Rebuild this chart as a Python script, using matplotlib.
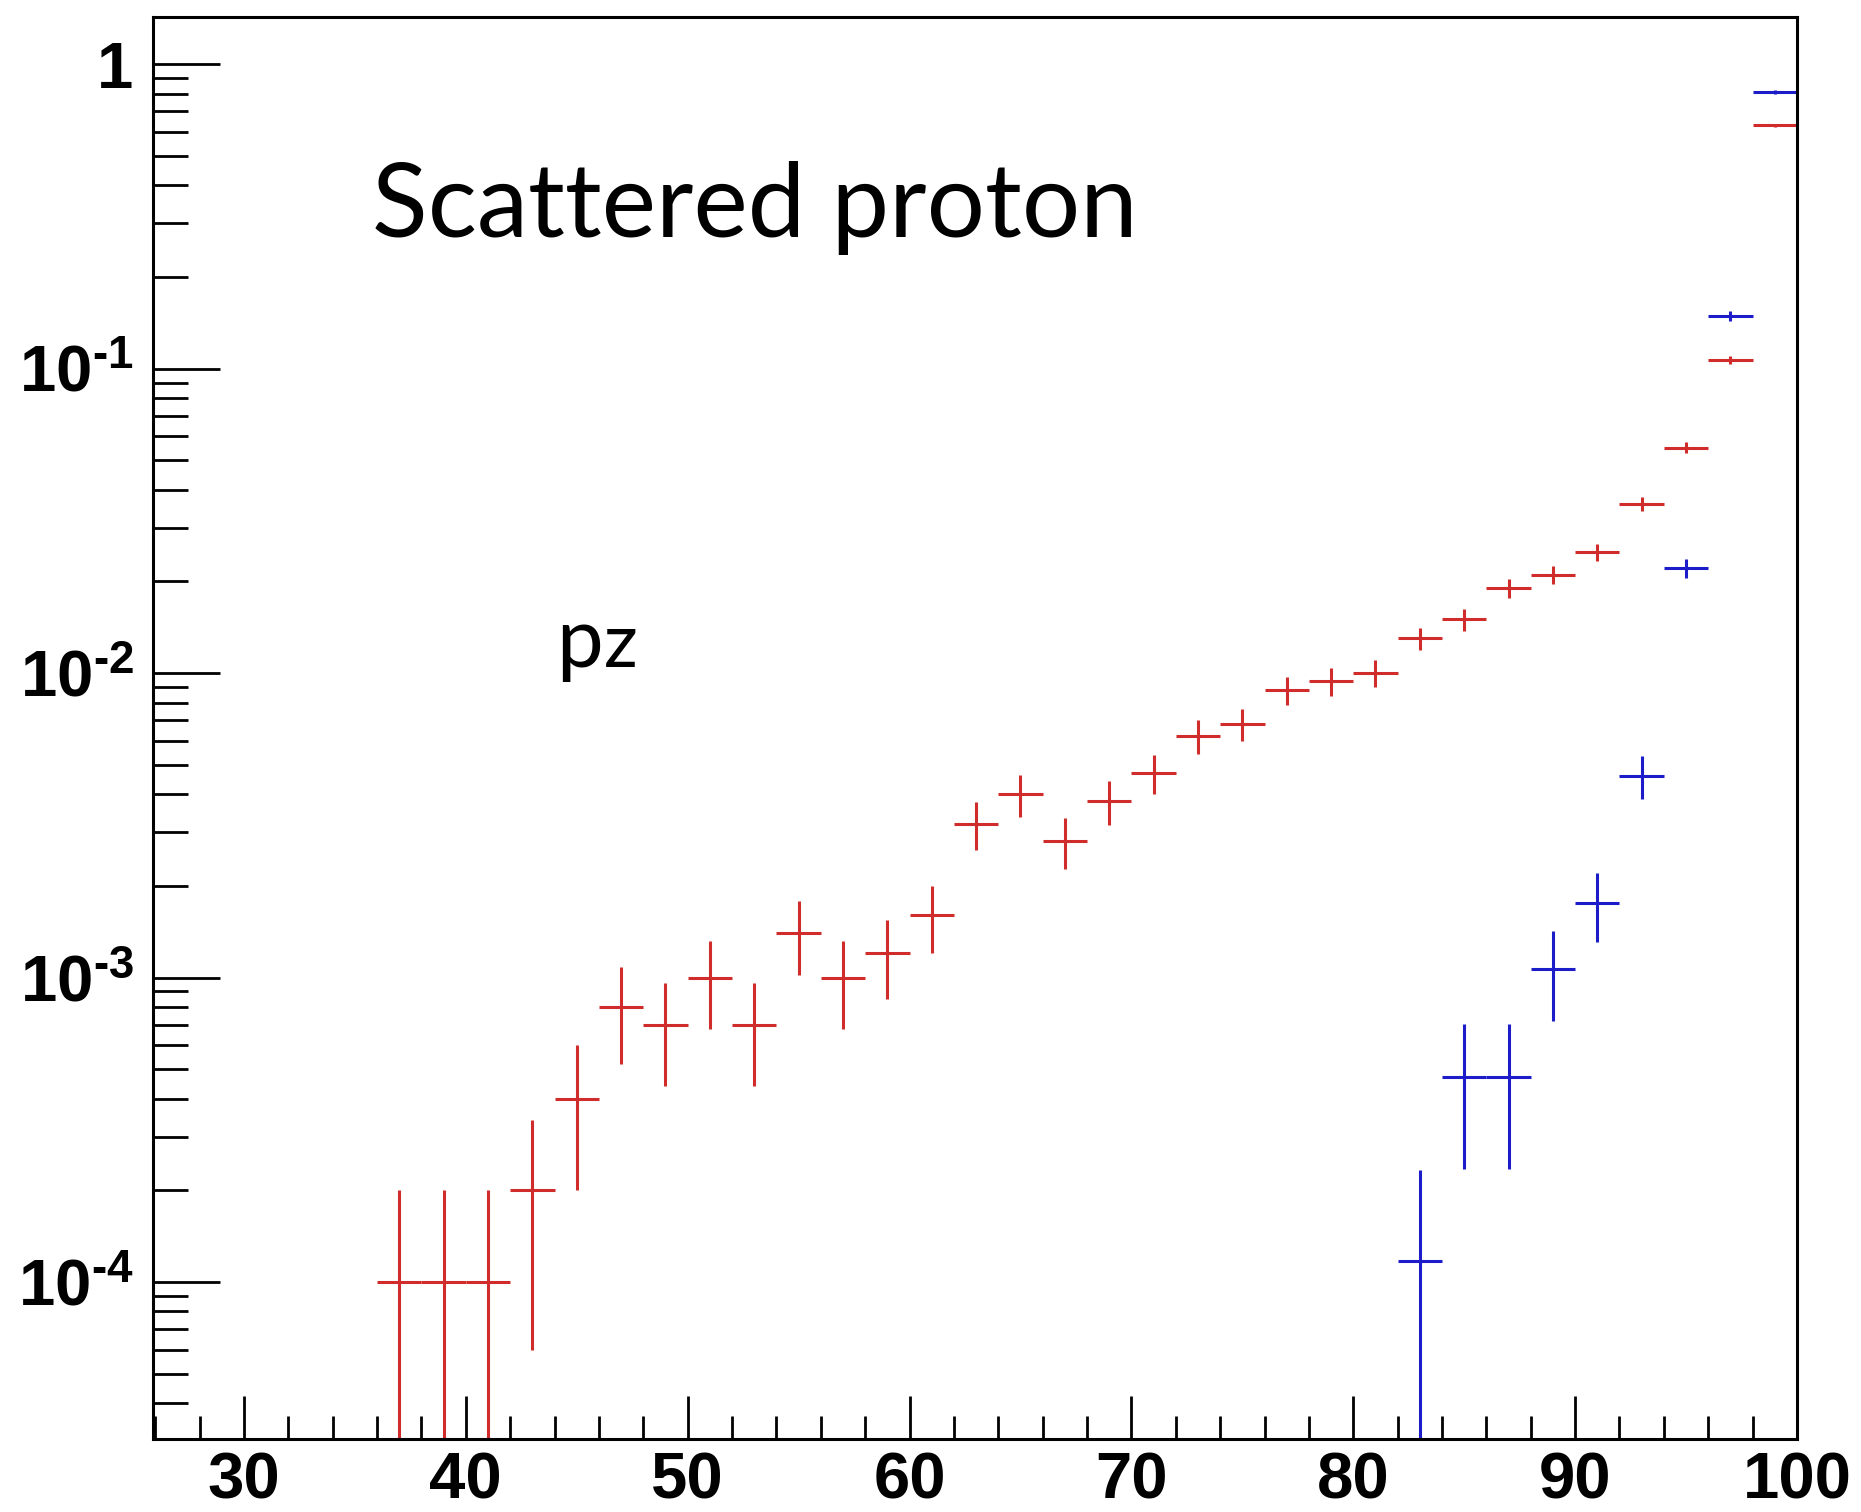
import matplotlib.pyplot as plt
import numpy as np
from matplotlib.ticker import MultipleLocator, LogLocator, NullFormatter

plt.rcParams['mathtext.fontset'] = 'custom'
plt.rcParams['mathtext.rm'] = 'Liberation Sans:bold'
plt.rcParams['mathtext.bf'] = 'Liberation Sans:bold'

# red histogram (bin centres, contents, errors)
red_x = np.arange(37, 100, 2)
red_y = np.array([1e-4, 1e-4, 1e-4, 2e-4, 4e-4, 8e-4, 7e-4, 1e-3, 7e-4, 1.4e-3,
                  1e-3, 1.2e-3, 1.6e-3, 3.2e-3, 4e-3, 2.8e-3, 3.8e-3, 4.7e-3, 6.2e-3, 6.8e-3,
                  8.8e-3, 9.4e-3, 1.0e-2, 1.3e-2, 1.5e-2, 1.9e-2, 2.1e-2, 2.5e-2, 3.6e-2, 5.5e-2,
                  0.107, 0.63])
red_err = np.array([1e-4, 1e-4, 1e-4, 1.4e-4, 2e-4, 2.8e-4, 2.6e-4, 3.2e-4, 2.6e-4, 3.8e-4,
                    3.2e-4, 3.5e-4, 4e-4, 5.7e-4, 6.3e-4, 5.3e-4, 6.2e-4, 6.9e-4, 7.9e-4, 8.2e-4,
                    9.4e-4, 9.7e-4, 1.0e-3, 1.1e-3, 1.2e-3, 1.4e-3, 1.4e-3, 1.6e-3, 1.9e-3, 2.3e-3,
                    3.3e-3, 8e-3])

# blue histogram
blue_x = np.array([83, 85, 87, 89, 91, 93, 95, 97, 99])
blue_y = np.array([1.17e-4, 4.7e-4, 4.7e-4, 1.07e-3, 1.76e-3, 4.6e-3, 2.21e-2, 0.149, 0.81])
blue_err = np.array([1.17e-4, 2.35e-4, 2.35e-4, 3.5e-4, 4.5e-4, 7.3e-4, 1.6e-3, 6e-3, 1.4e-2])

ytick_vals = [1e-4, 1e-3, 1e-2, 1e-1, 1]
ytick_labels = ['$\\mathbf{10^{\u20104}}$', '$\\mathbf{10^{\u20103}}$', '$\\mathbf{10^{\u20102}}$',
                '$\\mathbf{10^{\u20101}}$', '1']


def lower(y, e):
    # keep lower bars positive on the log axis
    return np.minimum(e, y - 1e-9)


fig = plt.figure(figsize=(18.61, 15.12), dpi=100)
ax = fig.add_axes([0.0822, 0.0483, 0.8834, 0.9405])

ax.errorbar(red_x, red_y, xerr=1, yerr=[lower(red_y, red_err), red_err],
            fmt='none', ecolor='#d02c2c', elinewidth=2.2, capsize=0)
ax.errorbar(blue_x, blue_y, xerr=1, yerr=[lower(blue_y, blue_err), blue_err],
            fmt='none', ecolor='#1c1cc8', elinewidth=2.2, capsize=0)

ax.set_yscale('log')
ax.set_xlim(25.9, 100)
ax.set_ylim(3.05e-5, 1.43)

ax.xaxis.set_major_locator(MultipleLocator(10))
ax.xaxis.set_minor_locator(MultipleLocator(2))
ax.set_yticks(ytick_vals)
ax.set_yticklabels(ytick_labels)
ax.yaxis.set_minor_locator(LogLocator(base=10, subs=np.arange(2, 10)))
ax.yaxis.set_minor_formatter(NullFormatter())

ax.tick_params(axis='both', which='both', direction='in', width=2, top=False, right=False)
ax.tick_params(axis='y', which='major', length=48, pad=14, labelsize=47)
ax.tick_params(axis='y', which='minor', length=25)
ax.tick_params(axis='x', which='major', length=31, pad=9, labelsize=47)
ax.tick_params(axis='x', which='minor', length=16.5)
for lab in ax.get_xticklabels() + ax.get_yticklabels():
    lab.set_fontfamily('Liberation Sans')
    lab.set_fontweight('bold')
for s in ax.spines.values():
    s.set_linewidth(2.2)

ax.text(0.133, 0.845, 'Scattered proton', transform=ax.transAxes,
        fontsize=74, family='Lato', va='baseline', ha='left')
ax.text(0.245, 0.543, 'p', transform=ax.transAxes,
        fontsize=60, family='Lato', va='baseline', ha='left')
ax.text(0.2745, 0.543, 'z', transform=ax.transAxes,
        fontsize=54, family='Lato', va='baseline', ha='left')

fig.savefig('out.png', dpi=100)
